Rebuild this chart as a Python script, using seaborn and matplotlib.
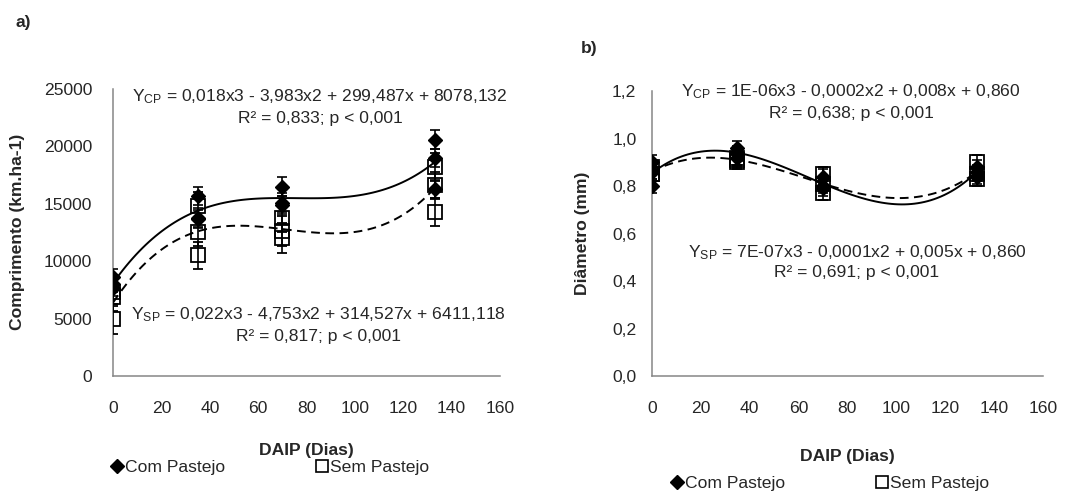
import matplotlib
matplotlib.use('Agg')
import matplotlib.pyplot as plt
import pandas as pd
import seaborn as sns
from matplotlib.lines import Line2D
from matplotlib.ticker import FuncFormatter

# Dados (DAIP em dias)
x_cp = [0, 0, 0, 35, 35, 35, 70, 70, 70, 133, 133, 133]
x_sp = [0, 0, 0, 35, 35, 35, 70, 70, 70, 133, 133, 133]

# a) comprimento (km.ha-1)
comp_cp = [8600, 8000, 7700, 15700, 13800, 13700, 16500, 15100, 14900, 20600, 19000, 16300]
comp_cp_err = [700, 700, 700, 800, 800, 800, 800, 800, 800, 800, 800, 800]
comp_sp = [7300, 6900, 5000, 14800, 12500, 10500, 13800, 12600, 12000, 18200, 16600, 14300]
comp_sp_err = [1200, 1200, 1300, 1200, 1200, 1200, 1300, 1300, 1300, 1200, 1200, 1200]

# b) diametro (mm)
diam_cp = [0.90, 0.86, 0.80, 0.96, 0.94, 0.92, 0.84, 0.80, 0.79, 0.88, 0.86, 0.84]
diam_cp_err = [0.03] * 12
diam_sp = [0.88, 0.85, 0.85, 0.92, 0.90, 0.91, 0.85, 0.77, 0.81, 0.90, 0.85, 0.83]
diam_sp_err = [0.03] * 12

eq_a_cp = ['Y$_\\mathregular{CP}$ = 0,018x3 - 3,983x2 + 299,487x + 8078,132', 'R² = 0,833; p < 0,001']
eq_a_sp = ['Y$_\\mathregular{SP}$ = 0,022x3 - 4,753x2 + 314,527x + 6411,118', 'R² = 0,817; p < 0,001']
eq_b_cp = ['Y$_\\mathregular{CP}$ = 1E-06x3 - 0,0002x2 + 0,008x + 0,860', 'R² = 0,638; p < 0,001']
eq_b_sp = ['Y$_\\mathregular{SP}$ = 7E-07x3 - 0,0001x2 + 0,005x + 0,860', 'R² = 0,691; p < 0,001']

sns.set_style('white')
plt.rcParams['font.family'] = ['Liberation Sans', 'DejaVu Sans']
plt.rcParams['mathtext.default'] = 'regular'
fs = 12.6
grey = '#868686'

df_a = pd.DataFrame({'x': x_cp + x_sp, 'y': comp_cp + comp_sp, 'err': comp_cp_err + comp_sp_err,
                     'grupo': ['CP'] * len(x_cp) + ['SP'] * len(x_sp)})
df_b = pd.DataFrame({'x': x_cp + x_sp, 'y': diam_cp + diam_sp, 'err': diam_cp_err + diam_sp_err,
                     'grupo': ['CP'] * len(x_cp) + ['SP'] * len(x_sp)})

fig = plt.figure(figsize=(10.88, 4.93), dpi=100)
ax1 = fig.add_axes([0.104, 0.2373, 0.3556, 0.5822])
ax2 = fig.add_axes([0.599, 0.2373, 0.3596, 0.5781])


def draw_panel(ax, df, ymax, ystep, ypad):
    cp = df[df.grupo == 'CP']
    sp = df[df.grupo == 'SP']
    sns.regplot(data=cp, x='x', y='y', order=3, scatter=False, ci=None, ax=ax,
                line_kws={'color': 'black', 'lw': 1.4})
    sns.regplot(data=sp, x='x', y='y', order=3, scatter=False, ci=None, ax=ax,
                line_kws={'color': 'black', 'lw': 1.4, 'ls': (0, (4.5, 2.8))})
    ax.errorbar(cp.x, cp.y, yerr=cp.err, fmt='D', color='black', ms=7.5, ecolor='black',
                elinewidth=1.2, capsize=3.5, capthick=1.2, zorder=3)
    ax.errorbar(sp.x, sp.y, yerr=sp.err, fmt='s', mfc='none', mec='black', mew=1.3, ms=10,
                ecolor='black', elinewidth=1.2, capsize=3.5, capthick=1.2, zorder=4)
    ax.set_xlim(0, 160)
    ax.set_ylim(0, ymax)
    ax.set_xticks(range(0, 161, 20))
    ax.set_yticks([ystep * i for i in range(int(round(ymax / ystep)) + 1)])
    for s in ['top', 'right']:
        ax.spines[s].set_visible(False)
    for s in ['left', 'bottom']:
        ax.spines[s].set_color(grey)
        ax.spines[s].set_linewidth(1.1)
    ax.tick_params(axis='x', direction='out', length=4, width=1.1, color=grey, pad=14, labelsize=fs)
    ax.tick_params(axis='y', direction='out', length=4, width=1.1, color=grey, pad=ypad, labelsize=fs)
    ax.set_xlabel('')
    ax.set_ylabel('')


draw_panel(ax1, df_a, 25000, 5000, 11)
draw_panel(ax2, df_b, 1.2, 0.2, 7)
ax2.yaxis.set_major_formatter(FuncFormatter(lambda v, p: f'{v:.1f}'.replace('.', ',')))

H = 493.0
W = 1088.0


def ftxt(x, y, s, **kw):
    fig.text(x / W, 1 - y / H, s, fontsize=fs, ha='center', va='center', **kw)


ftxt(320, 97, eq_a_cp[0]); ftxt(320, 119, eq_a_cp[1])
ftxt(318, 315, eq_a_sp[0]); ftxt(318, 337, eq_a_sp[1])
ftxt(851, 92, eq_b_cp[0]); ftxt(851, 113, eq_b_cp[1])
ftxt(857, 253, eq_b_sp[0]); ftxt(857, 273, eq_b_sp[1])

ftxt(306, 450, 'DAIP (Dias)', fontweight='bold')
ftxt(847, 457, 'DAIP (Dias)', fontweight='bold')
ftxt(18, 232, 'Comprimento (km.ha-1)', fontweight='bold', rotation=90)
ftxt(583, 233, 'Diâmetro (mm)', fontweight='bold', rotation=90)
ftxt(23, 22, 'a)', fontweight='bold')
ftxt(589, 48, 'b)', fontweight='bold')

handles = [Line2D([], [], marker='D', color='black', ls='none', ms=7),
           Line2D([], [], marker='s', mfc='none', mec='black', mew=1.2, ls='none', ms=9)]
labels = ['Com Pastejo', 'Sem Pastejo']
for x0, y0 in [(111, 467), (671, 483)]:
    fig.legend(handles, labels, loc='center left', bbox_to_anchor=(x0 / W, 1 - y0 / H),
               ncol=2, frameon=False, fontsize=fs, handlelength=0.7, handletextpad=0.1,
               columnspacing=5.2, borderpad=0, borderaxespad=0)

fig.savefig('out.png', dpi=100)
